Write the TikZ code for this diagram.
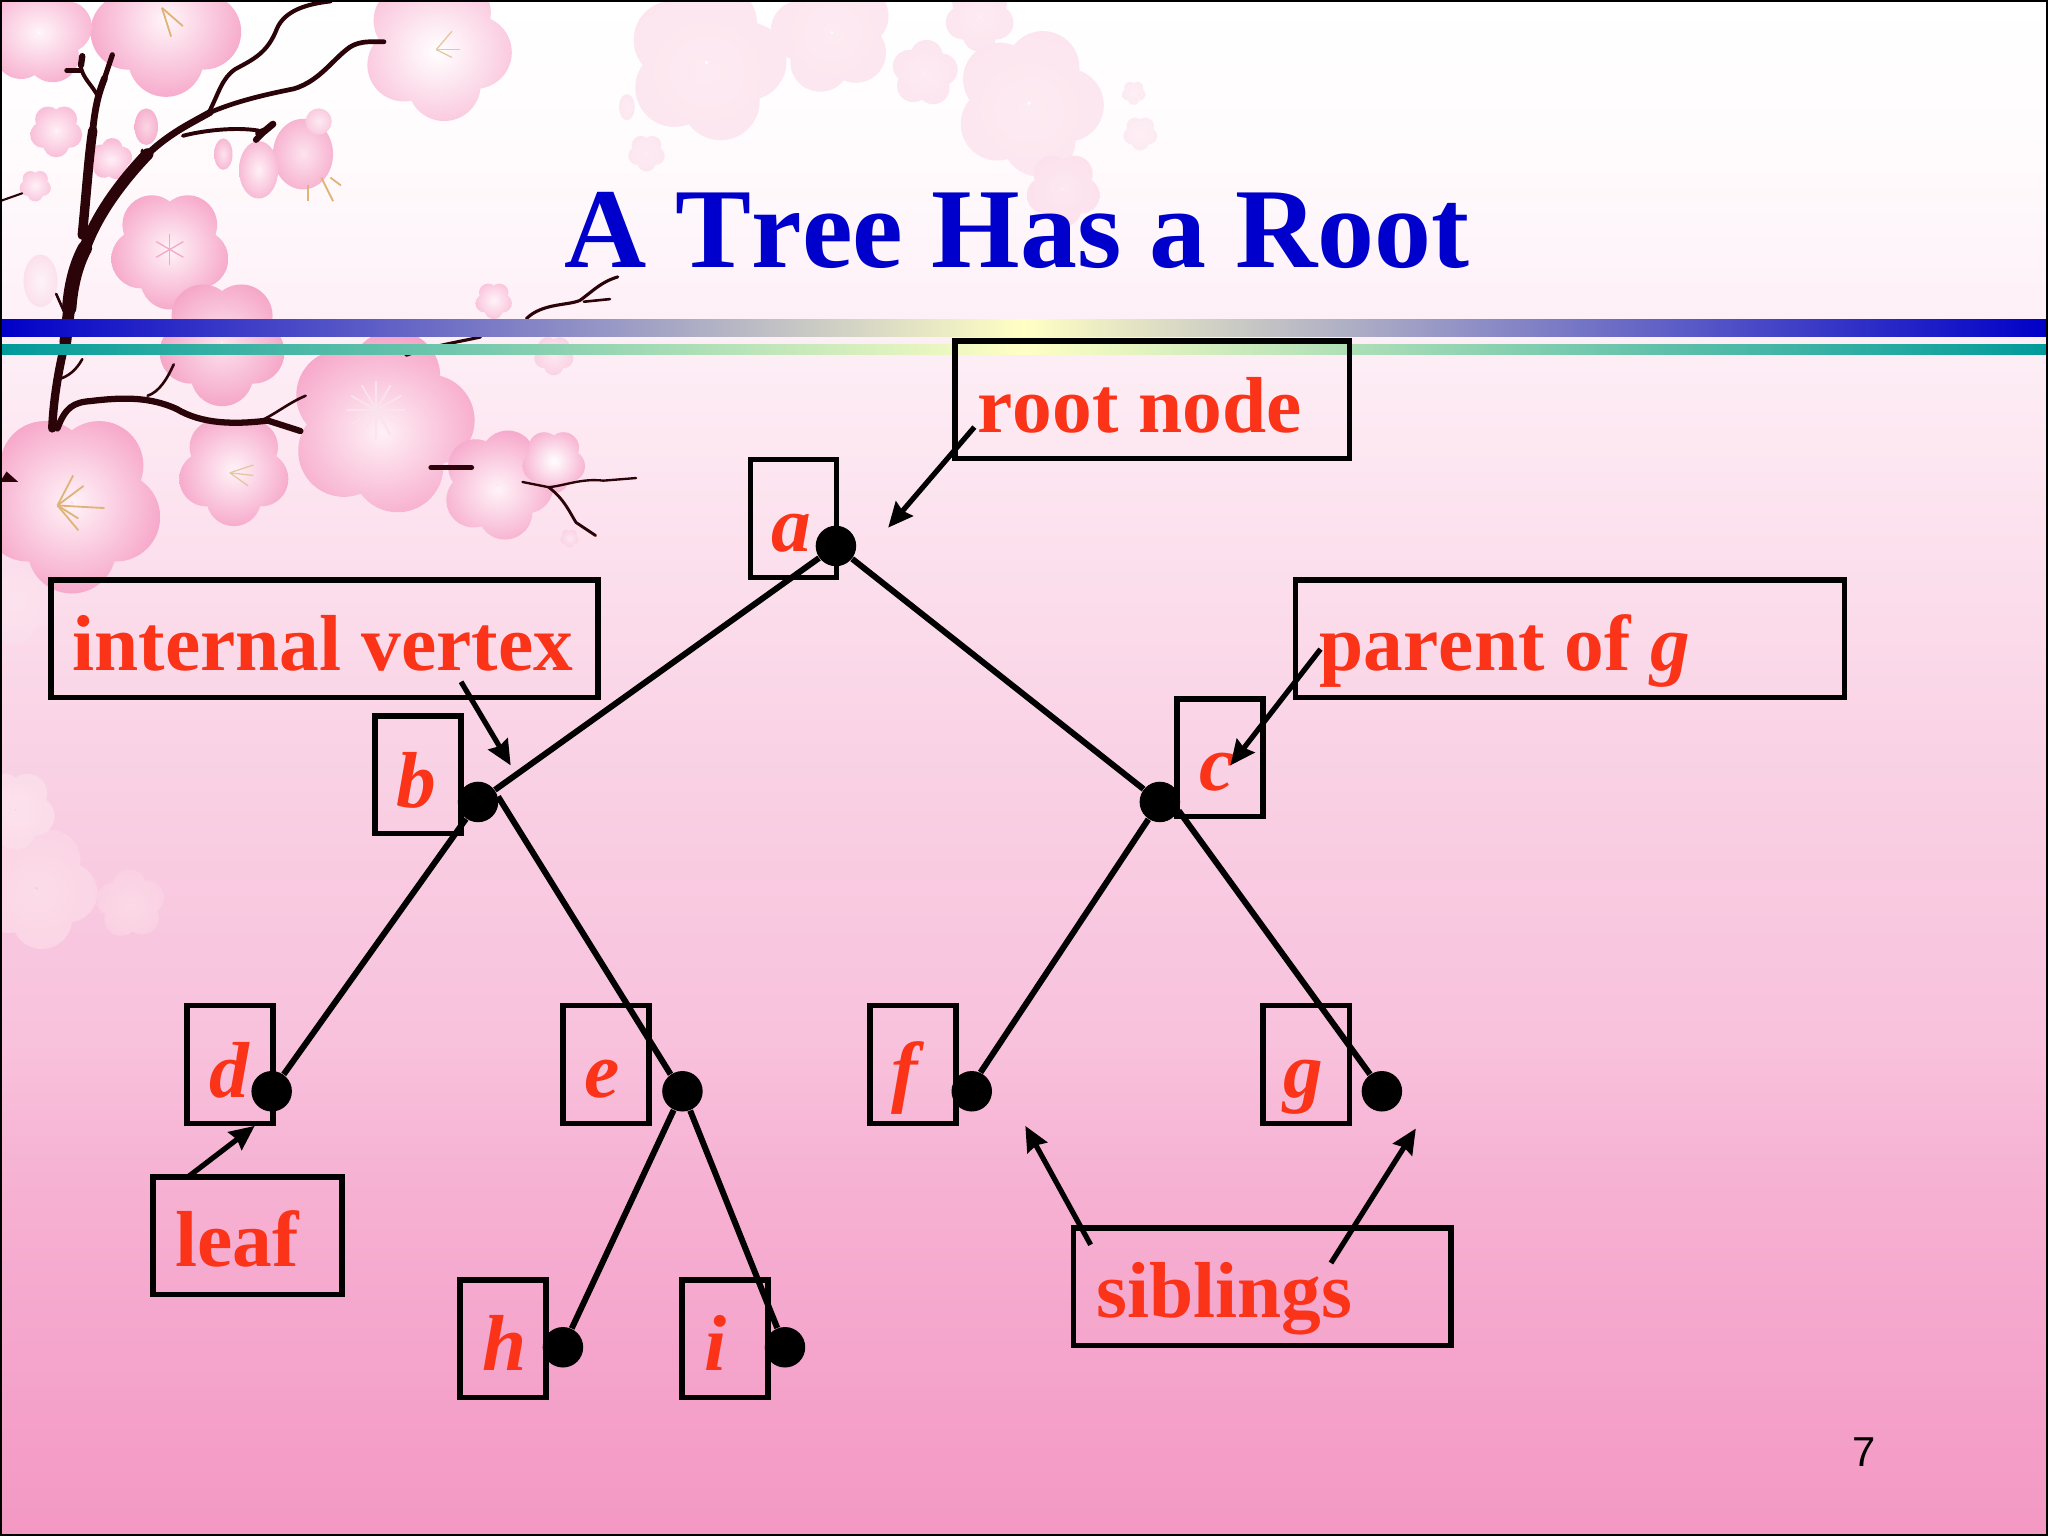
\documentclass[tikz,border=0pt]{standalone}
\usepackage{fontspec}
\setmainfont[Kerning=Off]{Liberation Serif}
\newfontfamily\pagefont{Liberation Sans}
\usetikzlibrary{arrows.meta}
\definecolor{titleblue}{HTML}{0000CC}
\definecolor{labelred}{HTML}{FA3319}
\definecolor{bark}{HTML}{2A0408}
\definecolor{barblue}{HTML}{0000C8}
\definecolor{barteal}{HTML}{009A9A}
\definecolor{barmid}{HTML}{FFFFC4}
\definecolor{bgA}{HTML}{F398C3}
\definecolor{bgB}{HTML}{F49FC8}
\definecolor{bgC}{HTML}{F5A8CD}
\definecolor{bgD}{HTML}{F6B2D3}
\definecolor{bgE}{HTML}{F8C1DC}
\definecolor{bgF}{HTML}{F9D0E4}
\definecolor{bgG}{HTML}{FCE2EE}
\definecolor{bgH}{HTML}{FDEBF4}
\definecolor{bgI}{HTML}{FEF4F9}
\definecolor{bgJ}{HTML}{FFFCFD}
\definecolor{bgK}{HTML}{FFFFFF}
\definecolor{stamA}{HTML}{E0B478}
\definecolor{stamB}{HTML}{E9C4A0}
\definecolor{stamC}{HTML}{FBE3EC}
\definecolor{stamD}{HTML}{F3A8C6}
\pgfdeclareverticalshading{slidebg}{100bp}{
 color(0bp)=(bgA); color(25bp)=(bgA); color(28.25bp)=(bgB); color(32.5bp)=(bgC); color(36.75bp)=(bgD);
 color(41bp)=(bgE); color(49.5bp)=(bgF); color(58bp)=(bgG); color(62.25bp)=(bgH);
 color(66.5bp)=(bgI); color(70.75bp)=(bgJ); color(75bp)=(bgK); color(100bp)=(bgK)}
\tikzset{
 boxst/.style={draw=black,line width=2.1pt,inner sep=0pt,minimum height=45pt,fill=none},
 lab/.style={text=labelred,font=\bfseries\fontsize{30.4}{34}\selectfont,anchor=base west,inner sep=0pt},
 ilab/.style={text=labelred,font=\bfseries\itshape\fontsize{30.4}{34}\selectfont,anchor=base west,inner sep=0pt},
 dot/.style={circle,fill=black,inner sep=0pt,minimum size=15.5pt},
 edge/.style={line width=2.3pt,black},
 pointer/.style={line width=2pt,black,-{Stealth[length=9.5pt,width=8.5pt,inset=1pt]}},
 br/.style={draw=bark,line cap=round,line join=round},
}
\newcommand{\flw}[6]{%
 \definecolor{flin}{HTML}{#5}\definecolor{flout}{HTML}{#6}%
 \begin{scope}[shift={(#1,#2)},rotate=#4]
 \begin{scope}
  \clip (18:#3*.52) circle (#3*.5) (90:#3*.52) circle (#3*.5) (162:#3*.52) circle (#3*.5)
        (234:#3*.52) circle (#3*.5) (306:#3*.52) circle (#3*.5);
  \shade[inner color=flin,outer color=flout] (0,0) circle (#3*1.2);
 \end{scope}
 \end{scope}}
\newcommand{\pet}[6]{%
 \definecolor{flin}{HTML}{#5}\definecolor{flout}{HTML}{#6}%
 \begin{scope}
  \clip (#1,#2) ellipse (#3 and #4);
  \shade[inner color=flin,outer color=flout] (#1,#2) ellipse (#3*1.2 and #4*1.2);
 \end{scope}}
\begin{document}
\begin{tikzpicture}[x=0.5pt,y=-0.5pt]
\useasboundingbox (0,0) rectangle (1568,1176);
\shade[shading=slidebg] (0,0) rectangle (1568,1176);
% pale background blossoms
\flw{541}{48}{60}{20}{FDEBF2}{FCE4EE}
\flw{637}{25}{46}{50}{FDEBF2}{FCE4EE}
\flw{750}{13}{26}{0}{FDEBF2}{FCE4EE}
\flw{708}{56}{25}{30}{FDEBF2}{FCE4EE}
\flw{788}{79}{56}{15}{FDEBF2}{FCE4EE}
\flw{814}{145}{28}{0}{FDE8F0}{FBE0EC}
\flw{873}{102}{13}{0}{FDF0F5}{FCE9F1}
\flw{868}{71}{9}{0}{FDF0F5}{FCE9F1}
\flw{495}{117}{14}{0}{FDEBF2}{FCE6EF}
\pet{480}{82}{6}{10}{FDEBF2}{FCE6EF}
\flw{28}{680}{46}{10}{FCDCE9}{FBD3E4}
\flw{100}{692}{26}{40}{FBD9E7}{FACEE1}
\flw{12}{620}{30}{0}{FCE2ED}{FBDAE8}
\flw{12}{460}{32}{0}{FCE3EE}{FBDCEA}
\pet{31}{215}{13}{20}{FDF3F8}{FBDCEA}
% stronger blossoms
\flw{127}{15}{58}{0}{FFF5F9}{F59FC5}
\flw{30}{25}{40}{30}{FFF5F9}{F6A5C9}
\flw{335}{36}{56}{10}{FFFFFF}{F9BBD6}
\flw{130}{191}{45}{0}{FFF3F8}{F59DC3}
\pet{232}{118}{23}{27}{FDE3EE}{F6ABCB}
\pet{198}{130}{15}{22}{FFF0F6}{F6B0CE}
\pet{171}{118}{7}{12}{FDE3EE}{F6B0CE}
\pet{244}{93}{10}{10}{FDEAF2}{F9C5DB}
\pet{112}{97}{9}{14}{FBD5E4}{F6ABCB}
\flw{43}{100}{20}{0}{FFF0F6}{F8B5D2}
\flw{85}{122}{16}{30}{FFF0F6}{F8B0CF}
\flw{27}{142}{12}{0}{FFF0F6}{F9C0D9}
\flw{170}{262}{48}{0}{FCE3EE}{F49CC1}
\flw{292}{323}{70}{20}{FFF0F6}{F59BC2}
\flw{179}{360}{42}{0}{FFF3F8}{F59FC5}
\flw{55}{385}{68}{0}{FFF3F8}{F59BC2}
\flw{381}{371}{42}{15}{FFF3F8}{F59FC5}
\flw{424}{353}{24}{0}{FFFFFF}{F6A6C9}
\flw{378}{230}{14}{0}{FFF3F8}{F8BDD7}
\flw{424}{272}{15}{0}{FDE8F1}{F9CEE1}
\flw{436}{412}{7}{0}{FDE8F1}{F9CEE1}
% stamens
\foreach \ex/\ey in {56/364,64/372,80/389,60/397,60/406}{\draw[line width=.7pt,stamA] (44,387) -- (\ex,\ey);}
\foreach \ex/\ey in {194/356,194/364,190/372}{\draw[line width=.5pt,stamB] (176,362) -- (\ex,\ey);}
\foreach \ex/\ey in {346/24,352/38,346/44}{\draw[line width=.5pt,stamB] (334,38) -- (\ex,\ey);}
\foreach \ex/\ey in {131/28,140/20}{\draw[line width=.7pt,stamA] (124,6) -- (\ex,\ey);}
\draw[line width=.7pt,stamA] (236,142) -- (236,154);
\draw[line width=.7pt,stamA] (246,136) -- (255,154);
\draw[line width=.7pt,stamA] (253,136) -- (261,142);
\foreach \sa in {0,30,...,330}{\draw[line width=.7pt,stamC] (288,314) -- +(\sa:22);}
\foreach \sa in {30,90,150,210,270,330}{\draw[line width=.5pt,stamD] (130,191) -- +(\sa:12);}
% branches
\draw[br,line width=3.2pt] (40,328) .. controls (41,305) and (45,282) .. (50,262);
\draw[br,line width=4.5pt] (50,262) -- (53,236);
\draw[br,line width=5.5pt] (53,236) .. controls (54,222) and (57,205) .. (65,190);
\draw[br,line width=4.5pt] (65,190) .. controls (74,165) and (92,140) .. (113,118);
\draw[br,line width=2.6pt] (113,118) .. controls (130,102) and (145,95) .. (161,86);
\draw[br,line width=1.8pt] (161,86) .. controls (180,78) and (200,73) .. (225,68) .. controls (245,62) and (255,45) .. (268,36) .. controls (276,31) and (285,32) .. (294,32);
\draw[br,line width=1.6pt] (160,86) .. controls (168,70) and (170,60) .. (180,53) .. controls (195,45) and (205,40) .. (212,22) .. controls (218,8) and (235,3) .. (253,1);
\draw[br,line width=3.6pt] (63,180) .. controls (66,150) and (68,120) .. (71,100);
\draw[br,line width=2.6pt] (71,100) .. controls (73,80) and (76,70) .. (80,60);
\draw[br,line width=2pt] (80,60) -- (86,42);
\draw[br,line width=1.5pt] (74,72) .. controls (70,65) and (64,60) .. (62,52);
\draw[br,line width=1.8pt] (62,54) -- (51,54);
\draw[br,line width=2.4pt] (62,50) -- (63,43);
\draw[br,line width=1.5pt] (140,104) .. controls (155,100) and (180,97) .. (198,100);
\draw[br,line width=2.6pt] (198,102) -- (203,100) -- (209,95);
\draw[br,line width=2.4pt] (196,107) -- (203,100);
\draw[br,line width=1pt] (43,225) -- (51,243);
\draw[br,line width=1.2pt] (108,128) -- (109,115);
\draw[br,line width=2.4pt] (44,328) .. controls (50,312) and (56,308) .. (70,307) .. controls (95,304) and (115,304) .. (135,313);
\draw[br,line width=2.4pt] (135,313) .. controls (155,325) and (180,325) .. (205,322) -- (230,330);
\draw[br,line width=1pt] (202,321) .. controls (212,316) and (222,308) .. (234,303);
\draw[br,line width=1pt] (113,303) .. controls (122,300) and (128,290) .. (133,279);
\draw[br,line width=1pt] (46,290) .. controls (52,288) and (58,284) .. (63,275);
\draw[br,line width=1.2pt] (311,272) .. controls (330,265) and (350,262) .. (368,258);
\draw[br,line width=1.2pt] (403,244) .. controls (415,232) and (435,234) .. (444,230) .. controls (455,222) and (460,216) .. (473,212);
\draw[br,line width=1pt] (447,231) -- (467,229);
\draw[br,line width=2pt] (330,358) -- (361,358);
\draw[br,line width=.9pt] (400,369) -- (420,373) .. controls (432,372) and (445,366) .. (462,368) -- (487,366);
\draw[br,line width=1.1pt] (420,373) .. controls (432,382) and (436,392) .. (441,400) -- (456,410);
\draw[br,line width=.8pt] (0,154) -- (17,148);
\fill[bark] (0,369) -- (14,369) -- (5,361) -- cycle;
% bars
\shade[left color=barblue,right color=barblue,middle color=barmid] (0,245) rectangle (1568,258);
\shade[left color=barteal,right color=barteal,middle color=barmid] (0,264) rectangle (1568,271.5);
% frame
\draw[black,line width=.8pt] (0.5,0.5) rectangle (1567.5,1175.5);
% title
\node[text=titleblue,font=\bfseries\fontsize{43.6}{48}\selectfont,anchor=base west,inner sep=0pt] (title) at (432,205) {A Tree Has a Root};
% callout boxes
\node[boxst,minimum width=151pt] (bxroot) at (882,306) {};
\node[boxst,minimum width=209.5pt] (bxint) at (248.5,489) {};
\node[boxst,minimum width=210pt] (bxpar) at (1202,489) {};
\node[boxst,minimum width=72.5pt] (bxleaf) at (189.5,946) {};
\node[boxst,minimum width=144.5pt] (bxsib) at (966.5,985) {};
\node[lab] (troot) at (748,331) {root node};
\node[lab] (tint) at (55,513) {internal vertex};
\node[lab] (tpar) at (1010,513) {parent of \textit{g}};
\node[lab] (tleaf) at (134,970) {leaf};
\node[lab] (tsib) at (839,1009) {siblings};
% vertex label boxes
\foreach \nm/\cx/\cy in {a/607.5/397,b/320/593,c/934/580,d/176/815,e/464/815,f/699/815,g/1000/815,h/385/1025,i/555/1025}{
 \node[boxst,minimum width=33pt] (bx\nm) at (\cx,\cy) {};
}
\node[ilab] (ta) at (590,422.5) {a};
\node[ilab] (tb) at (303,618) {b};
\node[ilab] (tc) at (918,605) {c};
\node[ilab] (td) at (160,840) {d};
\node[ilab] (te) at (447,840) {e};
\node[ilab] (tf) at (682,840) {f};
\node[ilab] (tg) at (982,840) {g};
\node[ilab] (th) at (369,1049) {h};
\node[ilab] (ti) at (539,1049) {i};
% vertices
\node[dot] (a) at (640,418) {};
\node[dot] (b) at (366,614) {};
\node[dot] (c) at (888,614) {};
\node[dot] (d) at (208,835.5) {};
\node[dot] (e) at (522.5,835.5) {};
\node[dot] (f) at (744,835.5) {};
\node[dot] (g) at (1058,835.5) {};
\node[dot] (h) at (431,1031.5) {};
\node[dot] (i) at (601,1031.5) {};
\draw[edge] (a) -- (b);
\draw[edge] (a) -- (c);
\draw[edge] (b) -- (d);
\draw[edge] (b.15) -- (e.125);
\draw[edge] (c) -- (f.65);
\draw[edge] (c.-25) -- (g.125);
\draw[edge] (e) -- (h);
\draw[edge] (e) -- (i);
% pointers
\coordinate (p1s) at (746,327); \coordinate (p1e) at (680,404);
\coordinate (p2s) at (353,522); \coordinate (p2e) at (391,586);
\coordinate (p3s) at (1011,497); \coordinate (p3e) at (942,586);
\coordinate (p4s) at (144,901); \coordinate (p4e) at (195,862);
\coordinate (p5s) at (835,953); \coordinate (p5e) at (785,862);
\coordinate (p6s) at (1019,967); \coordinate (p6e) at (1084,864);
\draw[pointer] (p1s) -- (p1e);
\draw[pointer] (p2s) -- (p2e);
\draw[pointer] (p3s) -- (p3e);
\draw[pointer] (p4s) -- (p4e);
\draw[pointer] (p5s) -- (p5e);
\draw[pointer] (p6s) -- (p6e);
% page number
\node[font=\pagefont\fontsize{16}{18}\selectfont,text=black,anchor=base west,inner sep=0pt] (pg) at (1418,1123) {7};
\end{tikzpicture}
\end{document}
